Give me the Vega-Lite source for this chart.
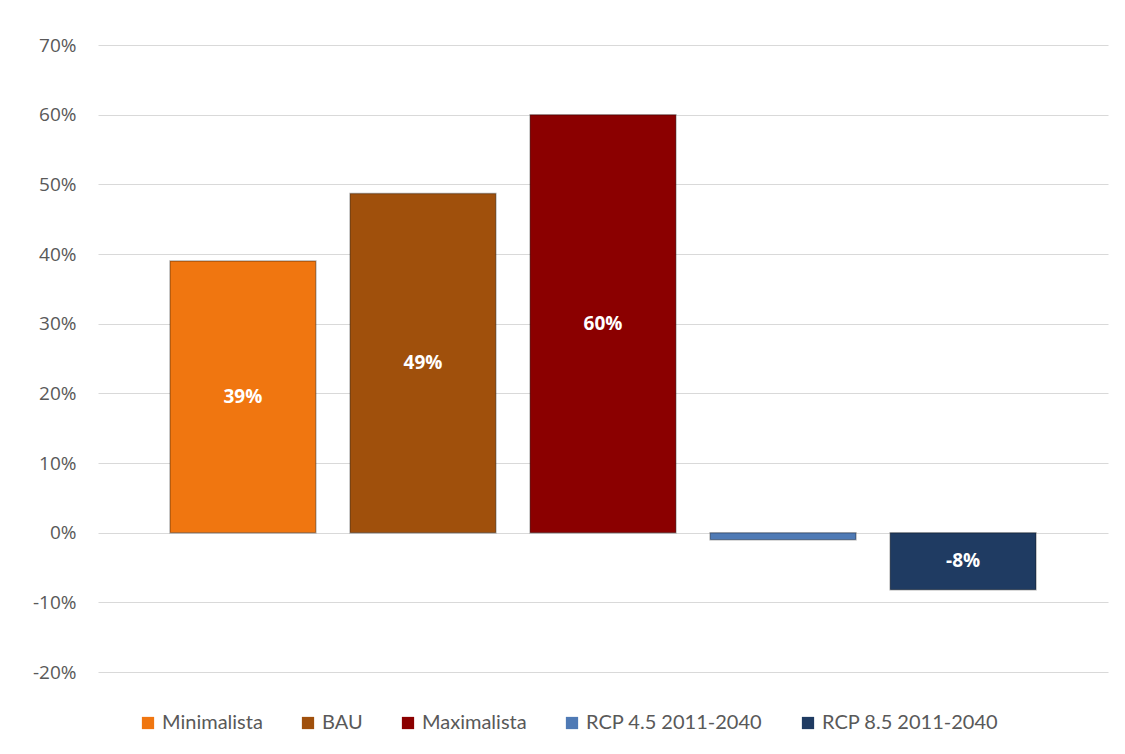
{
  "$schema": "https://vega.github.io/schema/vega-lite/v6.json",
  "width": 1010,
  "height": 627,
  "autosize": {"type": "none"},
  "padding": {"left": 98, "top": 45, "right": 17, "bottom": 82},
  "background": "white",
  "config": {
    "view": {"stroke": null},
    "locale": {"number": {"decimal": ".", "thousands": ",", "grouping": [3], "currency": ["$", ""], "minus": "-"}}
  },
  "data": {
    "values": [
      {"series": "Minimalista", "value": 0.39},
      {"series": "BAU", "value": 0.487},
      {"series": "Maximalista", "value": 0.60},
      {"series": "RCP 4.5 2011-2040", "value": -0.01},
      {"series": "RCP 8.5 2011-2040", "value": -0.082}
    ]
  },
  "encoding": {
    "x": {
      "field": "series",
      "type": "nominal",
      "sort": null,
      "scale": {"paddingInner": 0.19, "paddingOuter": 0.4},
      "axis": null
    }
  },
  "layer": [
    {
      "mark": {"type": "bar", "stroke": "black", "strokeOpacity": 0.3, "strokeWidth": 1.5},
      "encoding": {
        "y": {
          "field": "value",
          "type": "quantitative",
          "scale": {"domain": [-0.2, 0.7], "nice": false},
          "axis": {
            "format": ".0%",
            "values": [-0.2, -0.1, 0, 0.1, 0.2, 0.3, 0.4, 0.5, 0.6, 0.7],
            "title": null,
            "domain": false,
            "ticks": false,
            "labelPadding": 22,
            "labelFont": "Open Sans",
            "labelFontSize": 19,
            "labelColor": "#595959",
            "gridColor": "#d9d9d9",
            "gridWidth": 1
          }
        },
        "y2": {"datum": 0},
        "color": {
          "field": "series",
          "type": "nominal",
          "sort": null,
          "scale": {
            "domain": ["Minimalista", "BAU", "Maximalista", "RCP 4.5 2011-2040", "RCP 8.5 2011-2040"],
            "range": ["#F07610", "#A0500C", "#8B0000", "#4F7AB5", "#1F3B62"]
          },
          "legend": {
            "orient": "none",
            "legendX": 40,
            "legendY": 668,
            "direction": "horizontal",
            "title": null,
            "symbolType": "square",
            "symbolSize": 150,
            "symbolStrokeWidth": 0,
            "labelFont": "Lato",
            "labelFontSize": 20,
            "labelLimit": 0,
            "labelColor": "#595959",
            "labelOffset": 4,
            "columnPadding": 35
          }
        }
      }
    },
    {
      "transform": [
        {"filter": "abs(datum.value) > 0.05"},
        {"calculate": "datum.value / 2", "as": "mid"}
      ],
      "mark": {"type": "text", "color": "white", "fontWeight": "bold", "font": "Open Sans", "fontSize": 19, "baseline": "middle"},
      "encoding": {
        "y": {"field": "mid", "type": "quantitative"},
        "text": {"field": "value", "type": "quantitative", "format": ".0%"}
      }
    }
  ]
}
